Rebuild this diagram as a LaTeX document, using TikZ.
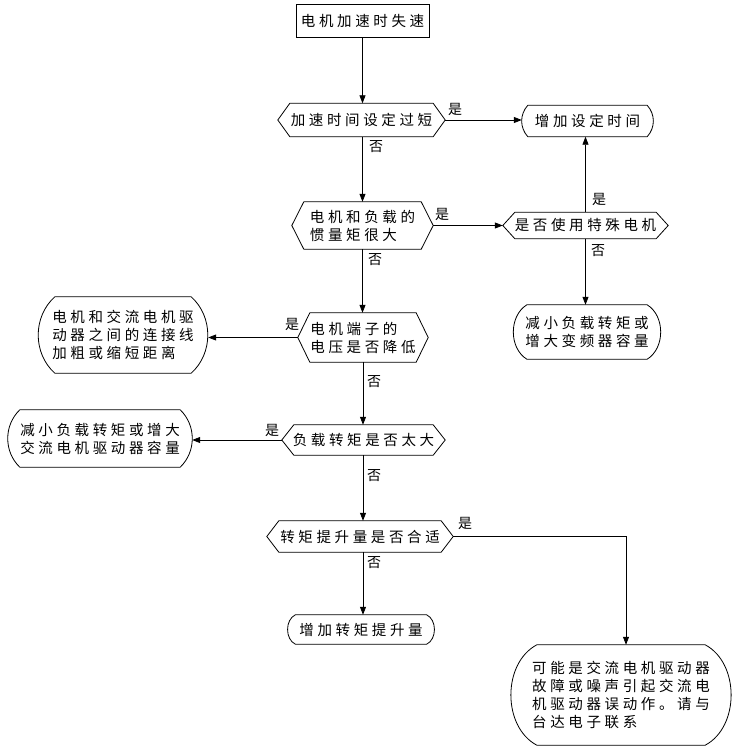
\documentclass[tikz,border=0pt]{standalone}
\usepackage{fontspec}
\setmainfont{Noto Sans CJK SC}[LetterSpace=25]
\usetikzlibrary{arrows.meta}
\begin{document}
\begin{tikzpicture}[x=1pt,y=-1pt,
  every node/.style={font=\fontsize{14.5}{18}\selectfont, inner sep=0pt},
  box/.style={draw, line width=0.8pt, rectangle, align=center},
  dec/.style={rectangle, align=left},
  term/.style={rectangle, align=left},
  lbl/.style={font=\fontsize{14}{16}\selectfont},
  arr/.style={line width=0.8pt, -{Triangle[length=8pt,width=6pt]}},
  outline/.style={line width=0.8pt}
]
\useasboundingbox (0,0) rectangle (736,747);

\node[box, minimum width=133, minimum height=33] (start) at (362.5,20.5) {电机加速时失速};

\node[dec, minimum width=167, minimum height=33] (d1) at (361.5,120) {加速时间设定过短};
\node[term, minimum width=131, minimum height=31] (o1) at (587.5,121) {增加设定时间};

\node[dec, minimum width=141, minimum height=47] (d2) at (362.5,225.5) {电机和负载的\\惯量矩很大};
\node[dec, minimum width=165, minimum height=26] (d3) at (585.5,225.5) {是否使用特殊电机};
\node[term, minimum width=150, minimum height=54] (o2) at (587,332) {减小负载转矩或\\增大变频器容量};

\node[dec, minimum width=130, minimum height=49] (d4) at (363,337.5) {电机端子的\\电压是否降低};
\node[term, minimum width=170, minimum height=76] (o3) at (123,335) {电机和交流电机驱\\动器之间的连接线\\加粗或缩短距离};

\node[dec, minimum width=163, minimum height=30] (d5) at (363.5,440) {负载转矩是否太大};
\node[term, minimum width=184, minimum height=57] (o4) at (100,438.5) {减小负载转矩或增大\\交流电机驱动器容量};

\node[dec, minimum width=186, minimum height=31] (d6) at (360,536.5) {转矩提升量是否合适};
\node[term, minimum width=149, minimum height=29] (o5) at (361,629.5) {增加转矩提升量};
\node[term, minimum width=228, minimum height=100] (o6) at (621,695) {可能是交流电机驱动器\\故障或噪声引起交流电\\机驱动器误动作。请与\\台达电子联系};

\foreach \n in {d1,d2,d3,d4,d5,d6}
  \draw[outline] ([xshift=12pt]\n.north west) -- ([xshift=-12pt]\n.north east) -- (\n.east)
    -- ([xshift=-12pt]\n.south east) -- ([xshift=12pt]\n.south west) -- (\n.west) -- cycle;

\foreach \n/\s/\t in {o1/6/42, o2/15/58, o3/17/48, o4/12/46, o5/9/64, o6/30/62}
  \draw[outline] ([xshift=\s pt]\n.north west) -- ([xshift=-\s pt]\n.north east)
    to[bend left=\t] ([xshift=-\s pt]\n.south east) -- ([xshift=\s pt]\n.south west)
    to[bend left=\t] cycle;

\draw[arr] (start.south) -- (start.south |- d1.north);
\draw[arr] (d1.east) -- (d1.east -| o1.west);
\draw[arr] ([xshift=1pt]d1.south) -- ([xshift=1pt]d1.south |- d2.north);
\draw[arr] (d2.east) -- (d2.east -| d3.west);
\draw[arr] (d3.north) -- (d3.north |- o1.south);
\draw[arr] (d3.south) -- (d3.south |- o2.north);
\draw[arr] (d2.south) -- (d2.south |- d4.north);
\draw[arr] (d4.west) -- (d4.west -| o3.east);
\draw[arr] (d4.south) -- (d4.south |- d5.north);
\draw[arr] (d5.west) -- (d5.west -| o4.east);
\draw[arr] ([xshift=-0.5pt]d5.south) -- ([xshift=-0.5pt]d5.south |- d6.north);
\draw[arr] ([xshift=3pt]d6.south) -- ([xshift=3pt]d6.south |- o5.north);
\draw[arr] (d6.east) -| ([xshift=5pt]o6.north);

\node[lbl] (l1) at (455,109) {是};
\node[lbl] (l2) at (376,147) {否};
\node[lbl] (l3) at (442,214) {是};
\node[lbl] (l4) at (599,199) {是};
\node[lbl] (l5) at (598,251) {否};
\node[lbl] (l6) at (375,260) {否};
\node[lbl] (l7) at (292,324) {是};
\node[lbl] (l8) at (374,382) {否};
\node[lbl] (l9) at (272,430) {是};
\node[lbl] (l10) at (374,476) {否};
\node[lbl] (l11) at (465,523) {是};
\node[lbl] (l12) at (374,563) {否};
\end{tikzpicture}
\end{document}
